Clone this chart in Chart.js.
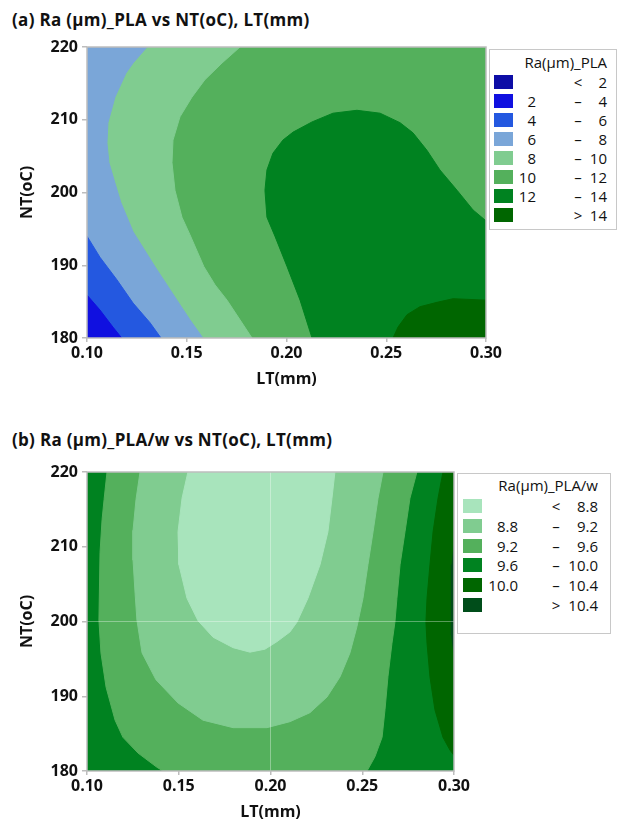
<!DOCTYPE html>
<html>
<head>
<meta charset="utf-8">
<script src="https://cdn.jsdelivr.net/npm/chart.js@4.4.1/dist/chart.umd.min.js"></script>
<style>
  body { margin: 0; width: 617px; height: 823px; overflow: hidden; background: #fff; position: relative;
         font-family: "Open Sans", "Noto Sans", sans-serif; color: #111; }
  canvas { position: absolute; left: 0; }
  .title { position: absolute; left: 12px; font-size: 17px; font-weight: 700; letter-spacing: 0.3px; line-height: 20px; white-space: nowrap; }
  .lgbox { position: absolute; border: 1px solid #c8c8c8; box-sizing: border-box; background: #fff; }
  .lg { position: absolute; font-size: 15px; line-height: 20px; white-space: nowrap; }
  .sw { position: absolute; width: 19px; height: 14px; }
</style>
</head>
<body>
<div class="title" style="top:10px">(a) Ra (µm)_PLA vs NT(oC), LT(mm)</div>
<div class="title" style="top:430px">(b) Ra (µm)_PLA/w vs NT(oC), LT(mm)</div>
<canvas id="chartA" width="617" height="400" style="top:0"></canvas>
<canvas id="chartB" width="617" height="423" style="top:400px"></canvas>
<script>
// ejes comunes
const ltTicks = [0.10, 0.15, 0.20, 0.25, 0.30];
const ntTicks = [180, 190, 200, 210, 220];

// (a) Ra_PLA: niveles y colores
const levelsA = [2, 4, 6, 8, 10, 12, 14];
const colorsA = ['#0d0da6', '#1010e0', '#2458e0', '#7aa6d8', '#80cc90', '#54b05c', '#008220', '#006600'];

// contornos (LT, NT) (a)
const raA4  = [[0.100, 185.9], [0.1065, 183.85], [0.1130, 181.5], [0.1174, 180]];
const raA6  = [[0.100, 194.0], [0.1065, 191.1], [0.1150, 188.0], [0.1231, 184.8], [0.1316, 182.1], [0.1371, 180]];
const raA8  = [[0.1301, 220], [0.1231, 217.8], [0.1195, 216.4], [0.1140, 213.1], [0.1105, 209.6], [0.1100, 206.8],
               [0.1110, 204.1], [0.1140, 201.3], [0.1170, 198.6], [0.1231, 194.6], [0.1341, 189.8], [0.1451, 185.2],
               [0.1516, 182.5], [0.1581, 180]];
const raA10 = [[0.1767, 220], [0.1677, 217.8], [0.1591, 215.5], [0.1526, 213.1], [0.1466, 210.4], [0.1431, 207.2],
               [0.1426, 204.1], [0.1441, 200.3], [0.1476, 196.6], [0.1516, 194.2], [0.1586, 189.8], [0.1642, 187.3],
               [0.1702, 185.2], [0.1767, 182.5], [0.1827, 180]];
const raA12 = [[0.2128, 180], [0.2068, 185.2], [0.2003, 189.8], [0.1942, 194.0], [0.1902, 196.6], [0.1892, 200.3],
               [0.1902, 203.1], [0.1932, 205.4], [0.1982, 207.2], [0.2033, 208.3], [0.2128, 209.7], [0.2233, 210.9],
               [0.2353, 211.3], [0.2469, 210.9], [0.2569, 209.6], [0.2634, 208.2], [0.2704, 205.8], [0.2769, 203.1],
               [0.2855, 200.3], [0.2935, 197.6], [0.300, 196.1]];
const raA14 = [[0.2534, 180], [0.2559, 181.5], [0.2604, 183.2], [0.2669, 184.3], [0.2754, 184.9], [0.2835, 185.4], [0.300, 185.2]];

// (b) Ra_PLA/w: niveles y colores
const levelsB = ['8.8', '9.2', '9.6', '10.0', '10.4'];
const colorsB = ['#a8e4bc', '#80cc90', '#54b05c', '#008220', '#006600', '#004d1a'];

// contornos (LT, NT) (b)
const raB96L = [[0.1109, 220], [0.1093, 216.3], [0.1082, 213.6], [0.1071, 209.2], [0.1065, 200.2], [0.1076, 195.8],
                [0.1104, 191.2], [0.1153, 186.8], [0.1196, 184.5], [0.1278, 182.4], [0.1381, 180.5], [0.1414, 180]];
const raB96R = [[0.2798, 220], [0.2760, 216.5], [0.2733, 212.0], [0.2706, 207.6], [0.2689, 203.1], [0.2678, 199.9],
                [0.2662, 197.1], [0.2640, 192.6], [0.2624, 188.2], [0.2608, 184.5], [0.2569, 181.9], [0.2526, 180]];
const raB92  = [[0.1289, 220], [0.1267, 216.3], [0.1251, 212.2], [0.1251, 208.2], [0.1262, 203.8], [0.1272, 200.2],
                [0.1300, 195.8], [0.1376, 192.2], [0.1496, 189.1], [0.1632, 186.8], [0.1796, 185.8], [0.1981, 185.8],
                [0.2106, 186.6], [0.2215, 187.8], [0.2308, 189.9], [0.2379, 192.6], [0.2433, 195.8], [0.2471, 199.3],
                [0.2504, 203.1], [0.2531, 207.6], [0.2559, 212.0], [0.2586, 216.5], [0.2613, 220]];
const raB88  = [[0.1550, 220], [0.1518, 216.5], [0.1496, 212.0], [0.1501, 207.6], [0.1545, 203.1], [0.1605, 200.1],
                [0.1687, 197.9], [0.1796, 196.5], [0.1888, 195.9], [0.1970, 196.3], [0.2035, 197.3], [0.2106, 198.6],
                [0.2144, 199.9], [0.2204, 203.1], [0.2270, 207.6], [0.2313, 212.0], [0.2335, 216.5], [0.2351, 220]];
const raB100 = [[0.2940, 220], [0.2913, 216.5], [0.2886, 212.0], [0.2869, 207.6], [0.2853, 203.1], [0.2847, 199.9],
                [0.2853, 197.1], [0.2869, 192.6], [0.2896, 188.2], [0.2940, 184.5], [0.2978, 182.8], [0.300, 182.1]];
const raB104 = [[0.300, 210.1], [0.2989, 207.6], [0.2984, 203.1], [0.2984, 199.9], [0.2989, 198.2], [0.300, 195.8]];

// líneas de referencia en (b)
const refLT = 0.20;
const refNT = 200;

const frameColor = '#bdbdbd';
const axisFont = { family: '"Open Sans", "Noto Sans", sans-serif', size: 16, weight: 'bold' };

function poly(points, color, order) {
    return {
        data: points.map(p => ({ x: p[0], y: p[1] })),
        showLine: true,
        fill: 'shape',
        backgroundColor: color,
        borderColor: color,
        borderWidth: 1,
        pointRadius: 0,
        tension: 0,
        order: order
    };
}

function refLine(points) {
    return {
        data: points.map(p => ({ x: p[0], y: p[1] })),
        showLine: true,
        fill: false,
        borderColor: 'rgba(255,255,255,0.35)',
        borderWidth: 1,
        pointRadius: 0,
        order: 0
    };
}

const framePlugin = {
    id: 'frame',
    afterDatasetsDraw(chart) {
        const { ctx, chartArea: a } = chart;
        ctx.save();
        ctx.strokeStyle = frameColor;
        ctx.lineWidth = 1.5;
        ctx.strokeRect(a.left, a.top, a.right - a.left, a.bottom - a.top);
        ctx.restore();
    }
};

// box: top/right padding, x-axis height, x-title bottom padding
function contourChart(id, box, datasets) {
    return new Chart(document.getElementById(id), {
        type: 'scatter',
        data: { datasets: datasets },
        options: {
            responsive: false,
            animation: false,
            events: [],
            layout: { padding: { left: 0, top: box.top, right: box.right, bottom: 0 } },
            plugins: { legend: { display: false }, tooltip: { enabled: false } },
            scales: {
                x: {
                    type: 'linear', min: 0.1, max: 0.3,
                    afterFit: s => { s.height = box.xh; },
                    afterBuildTicks: s => { s.ticks = ltTicks.map(v => ({ value: v })); },
                    ticks: { font: axisFont, color: '#111', padding: 1.5, maxRotation: 0, autoSkip: false,
                             callback: v => Number(v).toFixed(2) },
                    grid: { drawOnChartArea: false, tickLength: 4, color: frameColor, lineWidth: 1.5 },
                    border: { display: false },
                    title: { display: true, text: 'LT(mm)', font: axisFont, color: '#111',
                             padding: { top: 0, bottom: box.xtp } }
                },
                y: {
                    type: 'linear', min: 180, max: 220,
                    afterFit: s => { s.width = 87; },
                    afterBuildTicks: s => { s.ticks = ntTicks.map(v => ({ value: v })); },
                    ticks: { font: axisFont, color: '#111', padding: 4, autoSkip: false },
                    grid: { drawOnChartArea: false, tickLength: 5, color: frameColor, lineWidth: 1.5 },
                    border: { display: false },
                    title: { display: true, text: 'NT(oC)', font: axisFont, color: '#111',
                             padding: { top: 17.4, bottom: 0 } }
                }
            }
        },
        plugins: [framePlugin]
    });
}

const fullArea = [[0.1, 180], [0.1, 220], [0.3, 220], [0.3, 180]];

contourChart('chartA', { top: 47, right: 131, xh: 62, xtp: 11.4 }, [
    poly(fullArea, colorsA[5], 10),
    poly([[0.1, 220], ...raA10, [0.1, 180]], colorsA[4], 9),
    poly([[0.1, 220], ...raA8, [0.1, 180]], colorsA[3], 8),
    poly([...raA6, [0.1, 180]], colorsA[2], 7),
    poly([...raA4, [0.1, 180]], colorsA[1], 6),
    poly([...raA12, [0.3, 180]], colorsA[6], 5),
    poly([...raA14, [0.3, 180]], colorsA[7], 4)
]);

contourChart('chartB', { top: 72, right: 163, xh: 52, xtp: 1.4 }, [
    poly(fullArea, colorsB[3], 10),
    poly([...raB96L, ...raB96R.slice().reverse()], colorsB[2], 9),
    poly(raB92, colorsB[1], 8),
    poly(raB88, colorsB[0], 7),
    poly([...raB100, [0.3, 220]], colorsB[4], 6),
    poly(raB104, colorsB[5], 5),
    refLine([[refLT, 180], [refLT, 220]]),
    refLine([[0.1, refNT], [0.3, refNT]])
]);

// leyendas en HTML
function addEl(cls, css, text) {
    const el = document.createElement('div');
    el.className = cls;
    Object.assign(el.style, css);
    if (text !== undefined) el.textContent = text;
    document.body.appendChild(el);
    return el;
}

function buildLegend(g, title, levels, colors) {
    addEl('lgbox', { left: g.left + 'px', top: g.top + 'px', width: g.width + 'px', height: g.height + 'px' });
    addEl('lg', { right: (617 - g.textRight) + 'px', top: (g.titleY - 10) + 'px' }, title);
    const n = colors.length;
    for (let i = 0; i < n; i++) {
        const cy = g.row0 + g.step * i;
        addEl('sw', { left: g.swX + 'px', top: (cy - 7) + 'px', background: colors[i] });
        let low = '', sign = '–', high = '';
        if (i === 0) { sign = '<'; high = levels[0]; }
        else if (i === n - 1) { sign = '>'; high = levels[n - 2]; }
        else { low = levels[i - 1]; high = levels[i]; }
        if (low !== '') addEl('lg', { right: (617 - g.lowRight) + 'px', top: (cy - 10) + 'px' }, String(low));
        addEl('lg', { left: (g.signX - 10) + 'px', width: '20px', textAlign: 'center', top: (cy - 10) + 'px' }, sign);
        addEl('lg', { right: (617 - g.textRight) + 'px', top: (cy - 10) + 'px' }, String(high));
    }
}

buildLegend({ left: 489, top: 49, width: 128, height: 181, titleY: 62, row0: 81.5, step: 19.1,
              swX: 494, lowRight: 536, signX: 578, textRight: 607 },
            'Ra(µm)_PLA', levelsA, colorsA);
buildLegend({ left: 457, top: 473, width: 154, height: 161, titleY: 485, row0: 506.3, step: 19.7,
              swX: 463, lowRight: 518, signX: 556, textRight: 598 },
            'Ra(µm)_PLA/w', levelsB, colorsB);
</script>
</body>
</html>
